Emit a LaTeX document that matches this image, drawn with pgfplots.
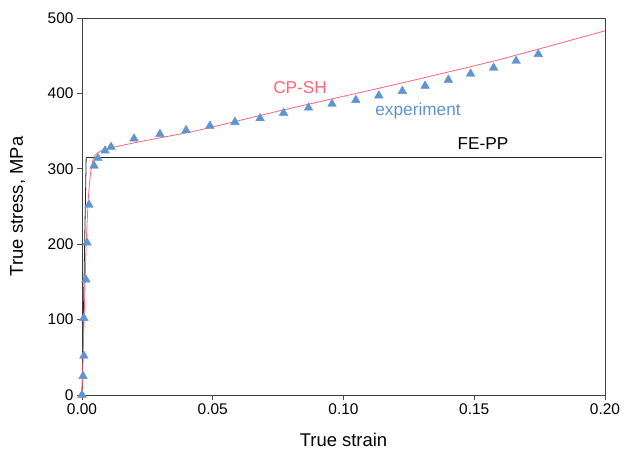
\documentclass[border=0pt]{standalone}
\usepackage{pgfplots}
\pgfplotsset{compat=1.18}
\usepackage{fontspec}
\setmainfont{Liberation Sans}
\usetikzlibrary{calc}
\definecolor{expblue}{RGB}{96,148,208}
\definecolor{cpred}{RGB}{255,100,120}
\begin{document}
\begin{tikzpicture}
\begin{axis}[
  name=ax,
  scale only axis,
  width=523bp, height=377bp,
  xmin=0, xmax=0.2, ymin=0, ymax=500,
  xtick={0,0.05,0.1,0.15,0.2},
  ytick={0,100,200,300,400,500},
  xticklabel style={/pgf/number format/.cd,fixed,fixed zerofill,precision=2,assume math mode=true},
  yticklabel style={/pgf/number format/assume math mode=true},
  scaled x ticks=false,
  tick align=outside, xtick pos=bottom, ytick pos=left,
  major tick length=5bp,
  tick style={black!70, line width=0.8pt},
  ticklabel style={font=\fontsize{15.5}{17}\selectfont},
  axis line style={black!75, line width=0.9pt},
  xlabel={True strain}, ylabel={True stress, MPa},
  every axis x label/.style={at={(axis description cs:0.5,-0.119)}, anchor=center, font=\fontsize{18.5}{21}\selectfont},
  every axis y label/.style={at={(axis description cs:-0.123,0.5)}, rotate=90, anchor=center, font=\fontsize{18.5}{21}\selectfont},
  clip=false,
]
% FE-PP
\addplot[black!85, line width=0.8pt] coordinates {(0,0) (0.0016,315) (0.1988,315)};
% CP-SH
\addplot[cpred, line width=0.8pt, smooth, tension=0.3] coordinates {
(0,0) (0.0008,100) (0.0016,200) (0.0024,260) (0.0032,292) (0.0042,312) (0.0055,320)
(0.0080,325) (0.0112,328) (0.0222,336) (0.0444,351) (0.0757,377) (0.12,412) (0.1587,444) (0.20,483)};
% experiment
\addplot[only marks, mark=triangle*, mark size=5bp, color=expblue, mark options={draw=expblue, fill=expblue}] coordinates {
(0,0) (0.0004,25) (0.0007,52) (0.0007,102) (0.0015,153) (0.0019,202) (0.0027,252)
(0.0046,304) (0.0061,314) (0.0088,324) (0.0111,329) (0.0199,340) (0.0298,346)
(0.0398,351) (0.0489,357) (0.0585,362) (0.0681,367) (0.0771,374) (0.0866,381)
(0.0956,386) (0.1047,391) (0.1135,397) (0.1225,403) (0.1312,410) (0.1401,418)
(0.1486,426) (0.1574,434) (0.1660,443) (0.1745,452)};
\node[text=cpred, font=\fontsize{17.3}{19}\selectfont] at (axis cs:0.0834,408) {CP-SH};
\node[text=expblue, font=\fontsize{17.3}{19}\selectfont] at (axis cs:0.1285,377) {experiment};
\node[text=black, font=\fontsize{17.3}{19}\selectfont] at (axis cs:0.1533,334) {FE-PP};
\end{axis}
\path ($(ax.south west)+(-82bp,-62bp)$) rectangle ($(ax.north east)+(22bp,18bp)$);
\end{tikzpicture}
\end{document}
